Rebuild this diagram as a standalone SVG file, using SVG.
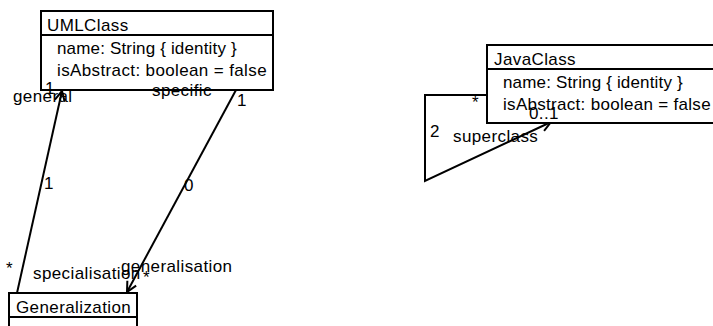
<svg xmlns="http://www.w3.org/2000/svg" width="713" height="326" viewBox="0 0 713 326">
<style>
text{font-family:"Liberation Sans",Arial,sans-serif;font-size:17px;fill:#000;letter-spacing:0.4px}
.box{fill:#fff;stroke:#000;stroke-width:2}
.div{stroke:#000;stroke-width:2}
.conn{fill:none;stroke:#000;stroke-width:2}
</style>
<defs>
<marker id="arr" markerUnits="userSpaceOnUse" markerWidth="14" markerHeight="14" refX="11" refY="6" orient="auto">
<path d="M1,1 L11,6 L1,11" fill="none" stroke="#000" stroke-width="2"/>
</marker>
</defs>
<rect width="713" height="326" fill="#fff"/>
<g id="connectors">
<line class="conn" x1="17" y1="293" x2="62" y2="91" marker-end="url(#arr)"/>
<line class="conn" x1="236" y1="90" x2="127" y2="292" marker-end="url(#arr)"/>
<polyline class="conn" points="487,95 425,95 425,181 551,122" marker-end="url(#arr)"/>
</g>
<g id="UMLClass">
<rect class="box" x="41" y="11" width="232" height="79"/>
<line class="div" x1="41" y1="35" x2="273" y2="35"/>
<text x="47" y="31">UMLClass</text>
<text x="57" y="54" textLength="180" lengthAdjust="spacing">name: String { identity }</text>
<text x="57" y="76" textLength="210" lengthAdjust="spacing">isAbstract: boolean = false</text>
</g>
<g id="JavaClass">
<rect class="box" x="487" y="45" width="240" height="78"/>
<line class="div" x1="487" y1="69" x2="727" y2="69"/>
<text x="494" y="65">JavaClass</text>
<text x="503" y="88" textLength="180" lengthAdjust="spacing">name: String { identity }</text>
<text x="503" y="110" textLength="208" lengthAdjust="spacing">isAbstract: boolean = false</text>
</g>
<g id="Generalization">
<rect class="box" x="9" y="293" width="128" height="40"/>
<line class="div" x1="9" y1="317" x2="137" y2="317"/>
<text x="16" y="313">Generalization</text>
</g>
<g id="labels">
<text x="13" y="102">general</text>
<text x="45" y="94">1</text>
<text x="44" y="189">1</text>
<text x="6" y="274">*</text>
<text x="33" y="279">specialisation</text>
<text x="152" y="96">specific</text>
<text x="237" y="106">1</text>
<text x="184" y="191">0</text>
<text x="121" y="272">generalisation</text>
<text x="143" y="283">*</text>
<text x="472" y="108">*</text>
<text x="430" y="137">2</text>
<text x="453" y="142">superclass</text>
<text x="529" y="119">0..1</text>
</g>
</svg>
